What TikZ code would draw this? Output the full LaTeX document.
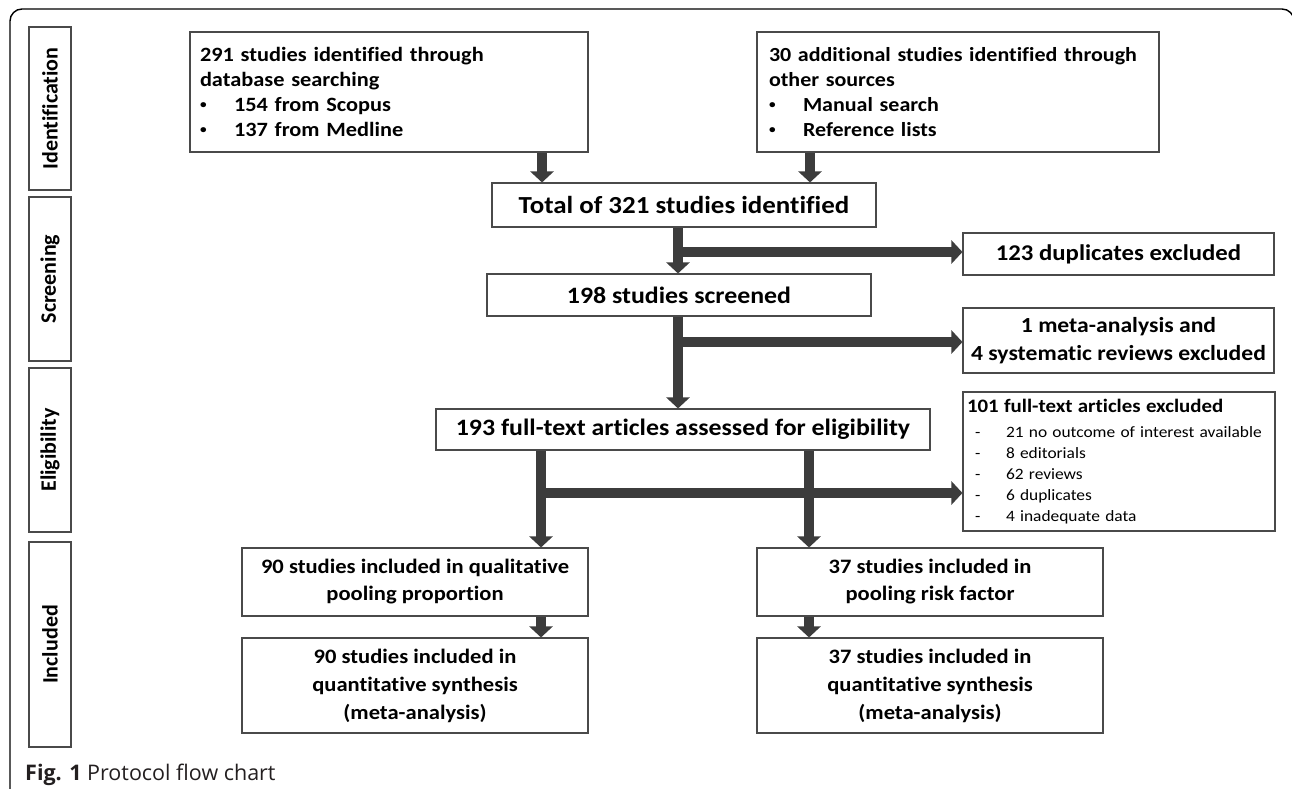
\documentclass[tikz,border=0pt]{standalone}
\usepackage{fontspec}
\setmainfont[Ligatures=NoCommon]{Carlito}
\newfontfamily\bx[FakeStretch=1.1,Ligatures=NoCommon]{Carlito}
\newfontfamily\capfont{Open Sans}
\usetikzlibrary{arrows.meta}
\definecolor{arrowgray}{HTML}{3C3C3C}
\definecolor{boxline}{HTML}{4A4A4A}
\definecolor{captext}{HTML}{231F20}
\newcommand{\bul}{\makebox[34pt][l]{\raisebox{3pt}{\fontsize{12}{12}\selectfont •}}}
\newcommand{\dsh}{\hspace*{8pt}\makebox[31pt][l]{-}}
\begin{document}
\begin{tikzpicture}[x=1pt,y=-1pt,
  box/.style={draw=boxline, line width=1.1pt, fill=white, inner sep=0pt, font=\bx\bfseries},
  lab/.style={draw=boxline, line width=1.1pt, rotate=90, inner sep=0pt, minimum height=42pt,
              font=\bfseries\fontsize{22}{24}\selectfont},
  fat/.style={draw=arrowgray, line width=10pt, -{Triangle[length=11pt,width=23pt]}}
]
\useasboundingbox (0,0) rectangle (1292,789);
% outer frame
\draw[line width=1.4pt, rounded corners=12pt] (10,800) -- (10,9) -- (1294,9) -- (1294,800);

% side labels
\node[lab, minimum width=163pt] (lid) at (50,108.5) {Identification};
\node[lab, minimum width=164pt] (lsc) at (50,279) {Screening};
\node[lab, minimum width=164pt] (lel) at (50,450) {Eligibility};
\node[lab, minimum width=205pt] (lin) at (50,644.5) {Included};

% identification
\node[box, minimum width=398pt, minimum height=120pt, text width=378pt, inner xsep=10pt, align=left,
      font=\bx\bfseries\fontsize{20.3}{25}\selectfont] (A) at (389,92)
  {291 studies identified through\\database searching\\
   \bul 154 from Scopus\\\bul 137 from Medline};
\node[box, minimum width=402pt, minimum height=120pt, text width=386pt, inner xsep=8pt, align=left,
      font=\bx\bfseries\fontsize{20}{25}\selectfont] (B) at (958,92)
  {\hspace*{4pt}30 additional studies identified through\\\hspace*{4pt}other sources\\
   \hspace*{4pt}\bul Manual search\\\hspace*{4pt}\bul Reference lists};

% screening
\node[box, minimum width=384pt, minimum height=44pt, font=\bx\bfseries\fontsize{24.5}{28}\selectfont] (C) at (684,205)
  {Total of 321 studies identified};
\node[box, minimum width=311pt, minimum height=42pt, font=\bx\bfseries\fontsize{22.5}{26}\selectfont] (dup) at (1118.5,254)
  {123 duplicates excluded};
\node[box, minimum width=384pt, minimum height=42pt, font=\bx\bfseries\fontsize{23.5}{27}\selectfont] (scr) at (679,295)
  {198 studies screened};
\node[box, minimum width=311pt, minimum height=65pt, align=center, font=\bx\bfseries\fontsize{21.5}{28}\selectfont] (meta) at (1118.5,340.5)
  {1 meta-analysis and\\4 systematic reviews excluded};

% eligibility
\node[box, minimum width=494pt, minimum height=41pt, font=\bx\bfseries\fontsize{23.5}{27}\selectfont] (elig) at (683,429.5)
  {193 full-text articles assessed for eligibility};
\node[box, minimum width=312pt, minimum height=139pt, text width=304pt, inner xsep=4pt, align=left,
      font=\bx\fontsize{15.8}{21}\selectfont] (excl) at (1119,461.5)
  {{\bfseries\fontsize{19}{21}\selectfont 101 full-text articles excluded}\\[4pt]
   \dsh 21 no outcome of interest available\\
   \dsh 8 editorials\\
   \dsh 62 reviews\\
   \dsh 6 duplicates\\
   \dsh 4 inadequate data};

% included
\node[box, minimum width=346pt, minimum height=68pt, align=center, font=\bx\bfseries\fontsize{20.5}{27}\selectfont] (qual) at (415,582)
  {90 studies included in qualitative\\pooling proportion};
\node[box, minimum width=346pt, minimum height=68pt, align=center, font=\bx\bfseries\fontsize{20.5}{27}\selectfont] (rf) at (930,582)
  {37 studies included in\\pooling risk factor};
\node[box, minimum width=346pt, minimum height=95pt, align=center, font=\bx\bfseries\fontsize{20.5}{28}\selectfont] (quant) at (415,685.5)
  {90 studies included in\\quantitative synthesis\\(meta-analysis)};
\node[box, minimum width=346pt, minimum height=95pt, align=center, font=\bx\bfseries\fontsize{20.5}{28}\selectfont] (quant2) at (930,685.5)
  {37 studies included in\\quantitative synthesis\\(meta-analysis)};

% helper coordinates
\coordinate (xa) at (542,0);
\coordinate (xb) at (810,0);
\coordinate (xm) at (678,0);
\coordinate (xl) at (541,0);
\coordinate (xr) at (809,0);
\coordinate (br1) at (678,252);
\coordinate (br2) at (678,342);
\coordinate (br3) at (541,493);

% connectors
\draw[fat] (A.south -| xa) -- (C.north -| xa);
\draw[fat] (B.south -| xb) -- (C.north -| xb);
\draw[fat] (C.south -| xm) -- (scr.north -| xm);
\draw[fat] (br1) -- (br1 -| dup.west);
\draw[fat] (scr.south -| xm) -- (elig.north -| xm);
\draw[fat] (br2) -- (br2 -| meta.west);
\draw[fat] (elig.south -| xl) -- (qual.north -| xl);
\draw[fat] (elig.south -| xr) -- (rf.north -| xr);
\draw[fat] (br3) -- (br3 -| excl.west);
\draw[fat] (qual.south -| xl) -- (quant.north -| xl);
\draw[fat] (rf.south -| xr) -- (quant2.north -| xr);

% caption
\node[anchor=base west, inner sep=0pt, text=captext, font=\capfont\fontsize{21.5}{24}\selectfont] (cap) at (25,780)
  {\textbf{Fig. 1} Protocol flow chart};
\end{tikzpicture}
\end{document}
